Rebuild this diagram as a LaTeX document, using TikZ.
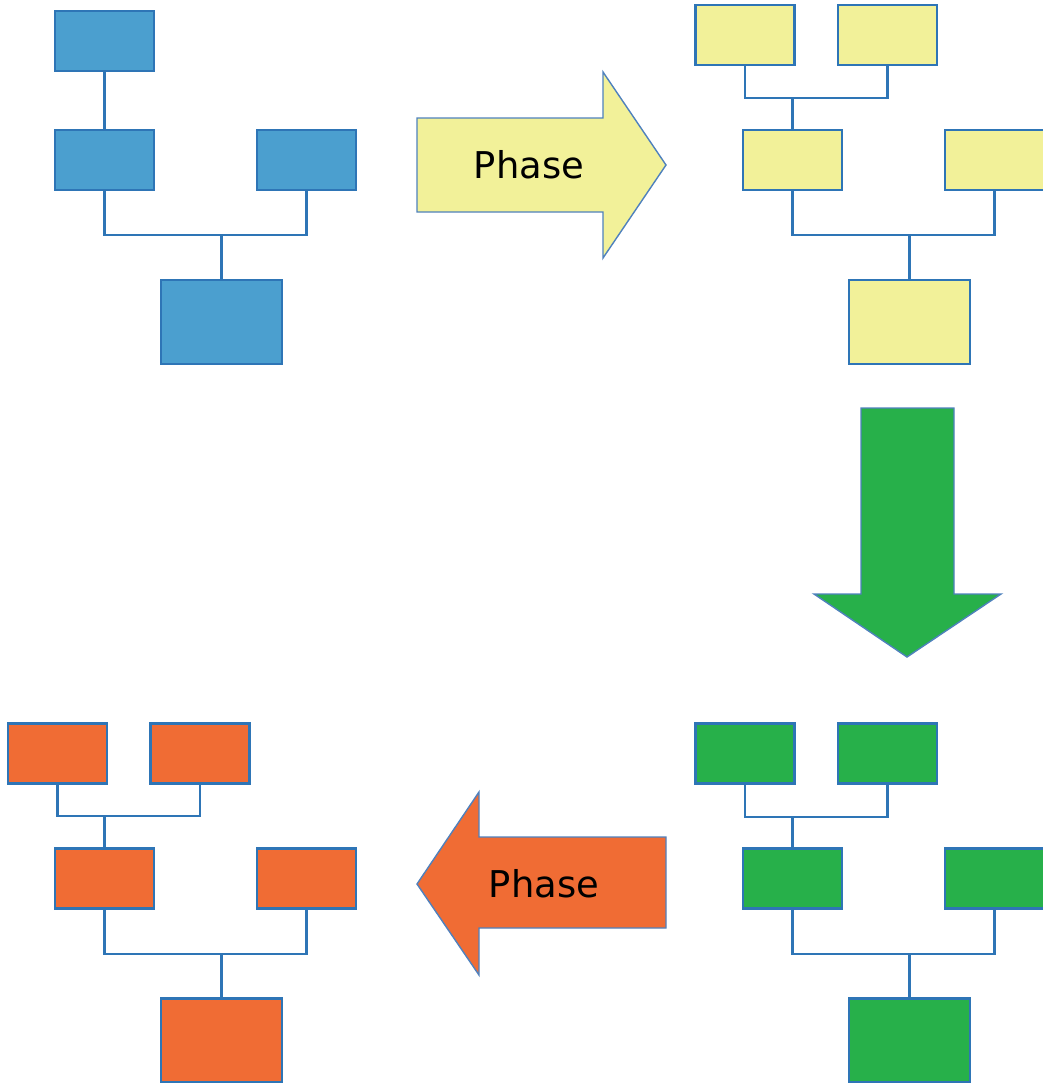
\documentclass[tikz,border=0pt]{standalone}
\usepackage{fontspec}
\setmainfont{DejaVu Sans}
\definecolor{lineblue}{RGB}{46,117,182}
\definecolor{edgeblue}{RGB}{79,129,189}
\definecolor{fillblue}{RGB}{75,159,207}
\definecolor{fillyellow}{RGB}{242,241,153}
\definecolor{fillgreen}{RGB}{39,176,74}
\definecolor{fillorange}{RGB}{240,108,52}
\tikzset{
  box/.style={draw=lineblue, line width=1.5pt, minimum width=1.98cm, minimum height=1.2cm, inner sep=0pt},
  bigbox/.style={box, minimum width=2.42cm, minimum height=1.68cm},
  link/.style={draw=lineblue, line width=1.4pt},
  phasearrow/.style={draw=edgeblue, line width=0.8pt, line join=miter},
  phaselabel/.style={font=\fontsize{21}{25}\selectfont}
}
\begin{document}
\begin{tikzpicture}[x=0.02cm, y=-0.02cm]
    \useasboundingbox (0, 0) rectangle (1043, 1083);

    % blue tree
    \node[box, fill=fillblue] (bt) at (104.5, 41) {};
    \node[box, fill=fillblue] (bl) at (104.5, 160) {};
    \node[box, fill=fillblue] (br) at (306.5, 160) {};
    \node[bigbox, fill=fillblue] (bb) at (221.5, 322) {};
    \coordinate (bj) at (221.5, 235);

    \draw[link] (bt) -- (bl);
    \draw[link] (bl.south) |- (bj) -| (br.south);
    \draw[link] (bj) -- (bb);

    % yellow tree
    \node[box, fill=fillyellow] (ytl) at (745, 35) {};
    \node[box, fill=fillyellow] (ytr) at (887.5, 35) {};
    \node[box, fill=fillyellow] (yl) at (792.5, 160) {};
    \node[box, fill=fillyellow] (yr) at (994.5, 160) {};
    \node[bigbox, fill=fillyellow] (yb) at (909.5, 322) {};
    \coordinate (yj1) at (792.5, 98);
    \coordinate (yj2) at (909.5, 235);

    \draw[link] (ytl.south) |- (yj1) -| (ytr.south);
    \draw[link] (yj1) -- (yl);
    \draw[link] (yl.south) |- (yj2) -| (yr.south);
    \draw[link] (yj2) -- (yb);

    % green tree
    \node[box, fill=fillgreen] (gtl) at (745, 753.5) {};
    \node[box, fill=fillgreen] (gtr) at (887.5, 753.5) {};
    \node[box, fill=fillgreen] (gl) at (792.5, 878.5) {};
    \node[box, fill=fillgreen] (gr) at (994.5, 878.5) {};
    \node[bigbox, fill=fillgreen] (gb) at (909.5, 1040.5) {};
    \coordinate (gj1) at (792.5, 817);
    \coordinate (gj2) at (909.5, 954);

    \draw[link] (gtl.south) |- (gj1) -| (gtr.south);
    \draw[link] (gj1) -- (gl);
    \draw[link] (gl.south) |- (gj2) -| (gr.south);
    \draw[link] (gj2) -- (gb);

    % orange tree
    \node[box, fill=fillorange] (otl) at (57.5, 753.5) {};
    \node[box, fill=fillorange] (otr) at (200, 753.5) {};
    \node[box, fill=fillorange] (ol) at (104.5, 878.5) {};
    \node[box, fill=fillorange] (or) at (306.5, 878.5) {};
    \node[bigbox, fill=fillorange] (ob) at (221.5, 1040.5) {};
    \coordinate (oj1) at (104.5, 816);
    \coordinate (oj2) at (221.5, 954);

    \draw[link] (otl.south) |- (oj1) -| (otr.south);
    \draw[link] (oj1) -- (ol);
    \draw[link] (ol.south) |- (oj2) -| (or.south);
    \draw[link] (oj2) -- (ob);

    % phase arrows
    \draw[phasearrow, fill=fillyellow] (417, 118) -- (603, 118) -- (603, 72) -- (666, 165)
        -- (603, 258) -- (603, 212) -- (417, 212) -- cycle;
    \node[phaselabel] (p1) at (529, 165) {Phase};

    \draw[phasearrow, fill=fillgreen] (861, 408) -- (954, 408) -- (954, 594) -- (1001, 594)
        -- (907, 657) -- (814, 594) -- (861, 594) -- cycle;

    \draw[phasearrow, fill=fillorange] (666, 837) -- (479, 837) -- (479, 792) -- (417, 884)
        -- (479, 975) -- (479, 928) -- (666, 928) -- cycle;
    \node[phaselabel] (p2) at (544, 884) {Phase};
\end{tikzpicture}
\end{document}
